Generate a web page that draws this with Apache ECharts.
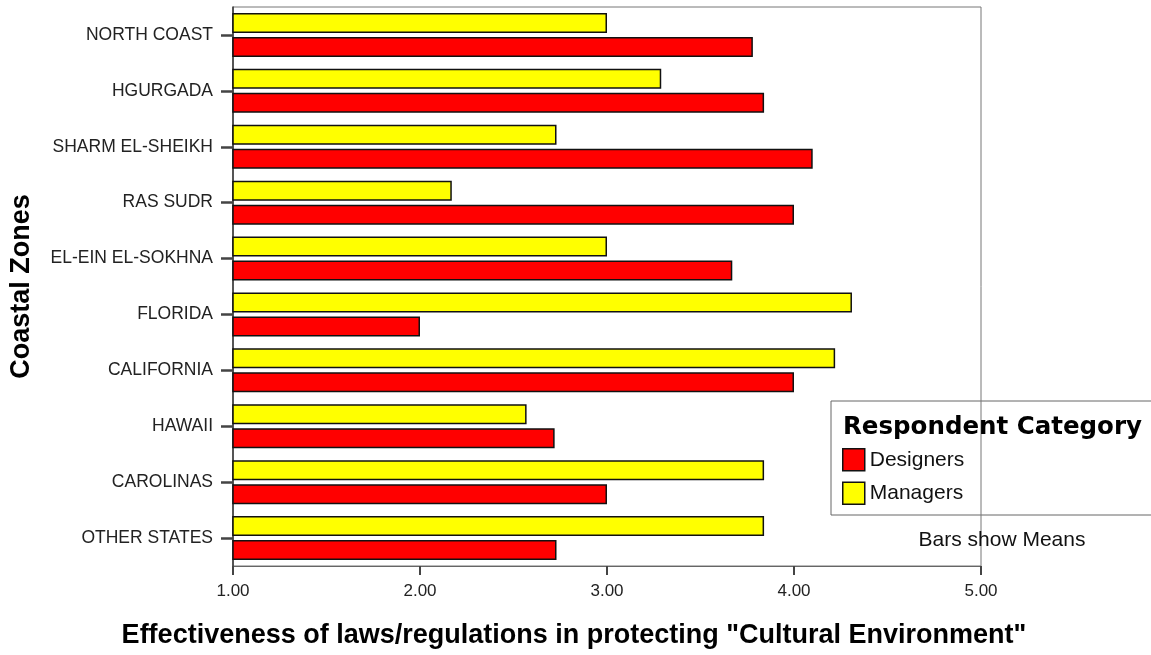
<!DOCTYPE html>
<html>
<head>
<meta charset="utf-8">
<script src="https://cdn.jsdelivr.net/npm/echarts@6/dist/echarts.min.js"></script>
<style>
html,body{margin:0;padding:0;background:#fff;}
#chart{width:1151px;height:655px;}
</style>
</head>
<body>
<div id="chart"></div>
<script>
const categories = ['NORTH COAST','HGURGADA','SHARM EL-SHEIKH','RAS SUDR','EL-EIN EL-SOKHNA','FLORIDA','CALIFORNIA','HAWAII','CAROLINAS','OTHER STATES'];
const designers = [3.78, 3.84, 4.10, 4.00, 3.67, 2.00, 4.00, 2.72, 3.00, 2.73];
const managers  = [3.00, 3.29, 2.73, 2.17, 3.00, 4.31, 4.22, 2.57, 3.84, 3.84];
const seriesNames = ['Designers','Managers'];
const xTicks = [1, 2, 3, 4, 5];

const chart = echarts.init(document.getElementById('chart'), null, {renderer:'canvas'});
const barBorder = {borderColor:'#111', borderWidth:1.5};
chart.setOption({
  backgroundColor:'#fff',
  animation:false,
  grid:{left:233, right:170, top:7, bottom:89, show:true, borderColor:'#777', borderWidth:1, containLabel:false},
  xAxis:{
    type:'value', min:xTicks[0], max:xTicks[xTicks.length-1], interval:1,
    name:'Effectiveness of laws/regulations in protecting "Cultural Environment"',
    nameLocation:'middle', nameGap:56,
    nameTextStyle:{fontFamily:'Liberation Sans, Arial', fontWeight:'bold', fontSize:27, color:'#000', padding:[0,66,0,0]},
    axisLine:{show:true, lineStyle:{color:'#666', width:1}},
    axisTick:{show:true, length:9, lineStyle:{color:'#444', width:2}},
    axisLabel:{margin:17, fontFamily:'Liberation Sans, Arial', fontSize:17, color:'#222', formatter:v=>v.toFixed(2)},
    splitLine:{show:false}
  },
  yAxis:{
    type:'category', data:categories, inverse:true,
    name:'Coastal Zones', nameLocation:'middle', nameGap:198,
    nameTextStyle:{fontFamily:'Liberation Sans, Arial', fontWeight:'bold', fontSize:27, color:'#000'},
    axisLine:{show:true, lineStyle:{color:'#333', width:1.5}},
    axisTick:{show:true, alignWithLabel:true, length:12, lineStyle:{color:'#444', width:2.5}},
    axisLabel:{margin:20, fontFamily:'Liberation Sans, Arial', fontSize:17.5, color:'#222'},
    splitLine:{show:false}
  },
  legend:{
    orient:'vertical', left:837, top:443, itemWidth:22, itemHeight:22, itemGap:10,
    data:seriesNames, icon:'rect',
    itemStyle:{borderColor:'#111', borderWidth:1.5},
    textStyle:{fontFamily:'Liberation Sans, Arial', fontSize:21, color:'#111'}
  },
  graphic:[
    {type:'rect', shape:{x:831, y:401, width:340, height:114}, style:{fill:'#fff', stroke:'#666', lineWidth:1}, z:-1},
    {type:'text', x:843, y:428, style:{text:'Respondent Category', fontFamily:'DejaVu Sans', fontWeight:'bold', fontSize:24.5, fill:'#000', textVerticalAlign:'middle'}},
    {type:'text', x:1002, y:540, style:{text:'Bars show Means', fontFamily:'Liberation Sans, Arial', fontSize:21, fill:'#111', textAlign:'center', textVerticalAlign:'middle'}}
  ],
  series:[
    {name:seriesNames[1], type:'bar', data:managers, barWidth:20, barGap:'20%', itemStyle:Object.assign({color:'#ffff00'}, barBorder)},
    {name:seriesNames[0], type:'bar', data:designers, barWidth:20, barGap:'20%', itemStyle:Object.assign({color:'#ff0000'}, barBorder)}
  ]
});
</script>
</body>
</html>
